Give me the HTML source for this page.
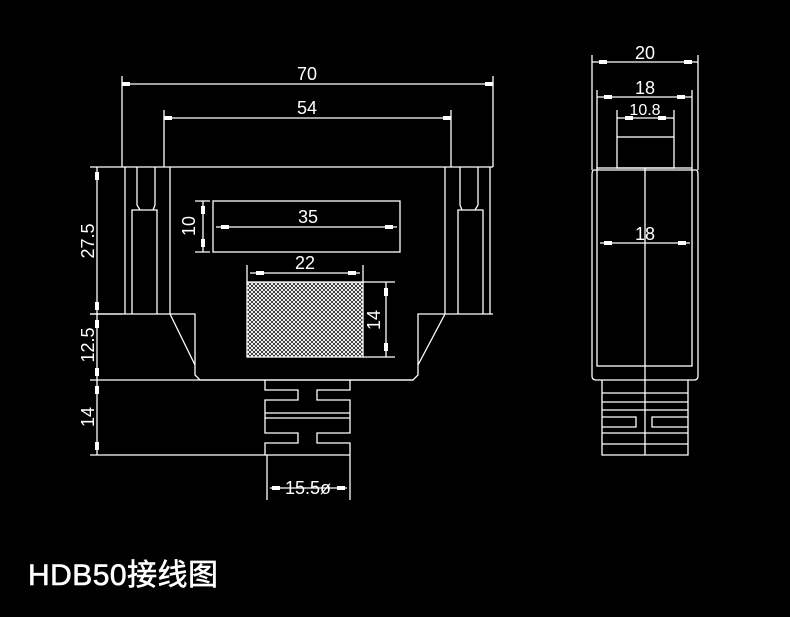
<!DOCTYPE html><html><head><style>body{margin:0;background:#000;width:790px;height:617px;overflow:hidden}svg{display:block}</style></head><body>
<svg width="790" height="617" xmlns="http://www.w3.org/2000/svg" font-family="Liberation Sans, sans-serif">
<defs><pattern id="m" width="4" height="4" patternUnits="userSpaceOnUse"><rect width="4" height="4" fill="#000"/><path d="M0 0L4 4M4 0L0 4" stroke="#fff" stroke-width="1"/></pattern></defs>
<g stroke="#fff" stroke-width="1.3" fill="none">
<line x1="122" y1="76" x2="122" y2="167"/><line x1="493" y1="76" x2="493" y2="167"/>
<line x1="122" y1="84" x2="493" y2="84"/>
<line x1="164" y1="110" x2="164" y2="167"/><line x1="451" y1="110" x2="451" y2="167"/>
<line x1="164" y1="118" x2="451" y2="118"/>
<line x1="90" y1="167" x2="493" y2="167"/>
<line x1="125" y1="167" x2="125" y2="314"/><line x1="490" y1="167" x2="490" y2="314"/>
<line x1="170" y1="167" x2="170" y2="314"/><line x1="445" y1="167" x2="445" y2="314"/>
<path d="M137 167V205L140 210H153L155 205V167M132 314V210H157V314"/>
<path d="M478 167V205L475 210H462L460 205V167M483 314V210H458V314"/>
<path d="M90 314H195V375L200 380H413L418 375V314H493"/>
<path d="M170 314L195 365M445 314L418 365"/>
<line x1="90" y1="380" x2="413" y2="380"/>
<rect x="213" y="201" width="187" height="51"/>
<line x1="216" y1="227" x2="397" y2="227"/>
<path d="M195 201H210M195 252H210M203 201V252"/>
<rect x="247" y="282" width="116" height="75" fill="url(#m)"/>
<path d="M247 265V282M363 265V282M250 273H360"/>
<path d="M363 282H395M363 357H395M386 282V357"/>
<path d="M265 380V390H298V400H265V433H298V443H265V455"/>
<path d="M350 380V390H317V400H350V433H317V443H350V455"/>
<path d="M265 413H350M265 418H350"/>
<line x1="90" y1="455" x2="350" y2="455"/>
<path d="M267 455V500M350 455V500M270 488H347"/>
<line x1="97" y1="167" x2="97" y2="455"/>
<line x1="90" y1="314" x2="122" y2="314"/>
<path d="M592 55V170M698 55V170M592 62H698"/>
<path d="M597 90V168M692 90V168M597 97H692"/>
<path d="M617 110V137M674 110V137M617 118H674"/>
<rect x="617" y="137" width="57" height="31"/>
<path d="M594 170H696Q698 170 698 175V376Q698 380 694 380H596Q592 380 592 376V175Q592 170 594 170Z"/>
<rect x="597" y="168" width="95" height="198"/>
<line x1="645" y1="168" x2="645" y2="455"/>
<line x1="600" y1="243" x2="690" y2="243"/>
<path d="M602 380V455H688V380M602 393H688M602 402H688M602 410H688M602 417H636V427H602M688 417H652V427H688M602 433H688M602 444H688"/>
</g>
<g fill="#fff">
<rect x="164" y="116" width="8" height="4"/><rect x="443" y="116" width="8" height="4"/>
<rect x="122" y="82" width="8" height="4"/><rect x="485" y="82" width="8" height="4"/>
<rect x="221" y="225" width="8" height="4"/><rect x="385" y="225" width="8" height="4"/>
<rect x="256" y="271" width="8" height="4"/><rect x="348" y="271" width="8" height="4"/>
<rect x="384" y="288" width="4" height="8"/><rect x="384" y="343" width="4" height="8"/>
<rect x="201" y="206" width="4" height="8"/><rect x="201" y="239" width="4" height="8"/>
<rect x="95" y="172" width="4" height="8"/><rect x="95" y="302" width="4" height="8"/>
<rect x="95" y="320" width="4" height="8"/><rect x="95" y="368" width="4" height="8"/>
<rect x="95" y="386" width="4" height="8"/><rect x="95" y="442" width="4" height="8"/>
<rect x="272" y="486" width="8" height="4"/><rect x="337" y="486" width="8" height="4"/>
<rect x="599" y="60" width="8" height="4"/><rect x="684" y="60" width="8" height="4"/>
<rect x="604" y="95" width="8" height="4"/><rect x="677" y="95" width="8" height="4"/>
<rect x="625" y="116" width="8" height="4"/><rect x="658" y="116" width="8" height="4"/>
<rect x="604" y="241" width="8" height="4"/><rect x="678" y="241" width="8" height="4"/>
</g>
<g fill="#fff" font-size="18" text-anchor="middle">
<text x="307" y="80">70</text>
<text x="307" y="114">54</text>
<text x="308" y="223">35</text>
<text x="305" y="269">22</text>
<text x="308" y="494">15.5ø</text>
<text x="645" y="59">20</text>
<text x="645" y="94">18</text>
<text x="645" y="115" font-size="16">10.8</text>
<text x="645" y="240">18</text>
<text transform="translate(195,226) rotate(-90)">10</text>
<text transform="translate(380,320) rotate(-90)">14</text>
<text transform="translate(94,241) rotate(-90)">27.5</text>
<text transform="translate(94,345) rotate(-90)">12.5</text>
<text transform="translate(94,417) rotate(-90)">14</text>
</g>
<text x="28" y="585" fill="#fff" stroke="#fff" stroke-width="0.6" font-size="30" textLength="190" font-family="Liberation Sans, Noto Sans CJK SC, sans-serif">HDB50接线图</text>
</svg></body></html>
